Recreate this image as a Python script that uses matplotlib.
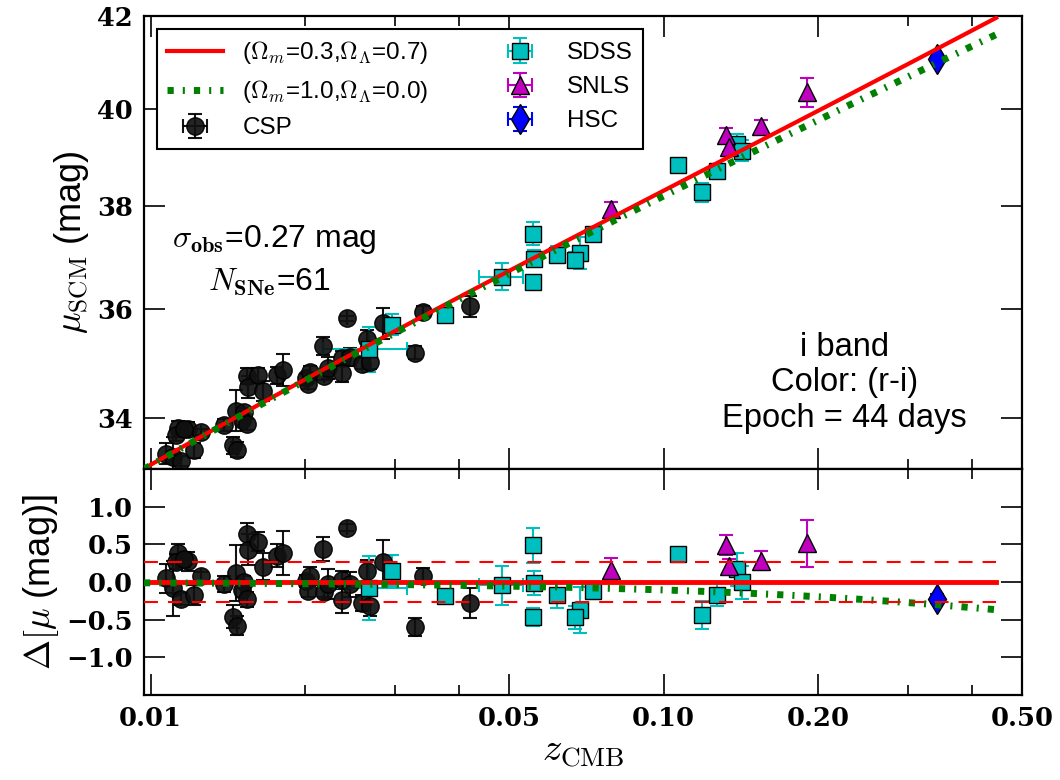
import numpy as np
import matplotlib
matplotlib.use("Agg")
import matplotlib.pyplot as plt
from matplotlib.ticker import NullLocator, NullFormatter

plt.rcParams["mathtext.fontset"] = "cm"
plt.rcParams["font.family"] = ["Liberation Sans", "DejaVu Sans"]

# --- data ---
csp_z = [0.01070, 0.01106, 0.01128, 0.01118, 0.01143, 0.01180, 0.01215, 0.01256,
         0.01391, 0.01466, 0.01444, 0.01470, 0.01521, 0.01504, 0.01538, 0.01542,
         0.01545, 0.01620, 0.01653, 0.01765, 0.01813, 0.02008, 0.02044, 0.02029,
         0.02170, 0.02180, 0.02220, 0.02358, 0.02360, 0.02411, 0.02447, 0.02579,
         0.02638, 0.02677, 0.02835, 0.03402, 0.03278, 0.04184, 0.01160]
csp_mu = [33.37, 33.31, 33.83, 33.69, 33.24, 33.81, 33.43, 33.75,
          33.87, 34.13, 33.52, 33.44, 34.10, 33.97, 33.89, 34.76,
          34.56, 34.77, 34.48, 34.77, 34.87, 34.72, 34.83, 34.61,
          35.31, 34.76, 34.90, 35.09, 34.82, 35.83, 35.11, 34.98,
          35.45, 35.02, 35.74, 35.95, 35.19, 36.06, 33.80]
csp_err = [0.19, 0.36, 0.12, 0.10, 0.08, 0.12, 0.13, 0.06,
           0.11, 0.37, 0.15, 0.13, 0.08, 0.10, 0.10, 0.15,
           0.20, 0.13, 0.18, 0.15, 0.29, 0.08, 0.12, 0.08,
           0.16, 0.07, 0.20, 0.12, 0.17, 0.05, 0.17, 0.10,
           0.15, 0.13, 0.29, 0.11, 0.12, 0.20, 0.10]

sdss_z = [0.04848, 0.05555, 0.05598, 0.05560, 0.06201, 0.06865, 0.06733, 0.07276,
          0.10665, 0.11900, 0.12732, 0.13930, 0.14202, 0.02665, 0.02952, 0.03752]
sdss_mu = [36.62, 37.46, 36.97, 36.51, 37.05, 37.08, 36.94, 37.46,
           38.83, 38.28, 38.71, 39.26, 39.13, 35.25, 35.71, 35.90]
sdss_err = [0.26, 0.23, 0.16, 0.12, 0.17, 0.31, 0.15, 0.10,
            0.07, 0.19, 0.15, 0.22, 0.22, 0.42, 0.20, 0.08]
sdss_zerr = [0.0048, 0, 0, 0, 0, 0, 0, 0,
             0, 0, 0, 0, 0, 0.0050, 0, 0]

snls_z = [0.07913, 0.13215, 0.13416, 0.15514, 0.19024]
snls_mu = [37.94, 39.46, 39.21, 39.63, 40.35]
snls_err = [0.15, 0.13, 0.10, 0.13, 0.31]

hsc_z = [0.3414]
hsc_mu = [41.06]
hsc_err = [0.06]

sigma_obs = 0.27
band_text = "i band\nColor: (r-i)\nEpoch = 44 days"

# cosmology for the model curves
H0 = 70.0
C_KMS = 299792.458
Z_MIN, Z_MAX = 0.0097, 0.445


def dist_mod(z, om, ol):
    """distance modulus for an FRW model (numerical integral)"""
    z = np.asarray(z, dtype=float)
    zz = np.linspace(0.0, 0.6, 6001)
    ez = np.sqrt(om * (1 + zz) ** 3 + (1 - om - ol) * (1 + zz) ** 2 + ol)
    dc = np.concatenate([[0.0], np.cumsum(0.5 * (1 / ez[1:] + 1 / ez[:-1]) * np.diff(zz))])
    dl = (1 + z) * C_KMS / H0 * np.interp(z, zz, dc)
    return 5 * np.log10(dl) + 25


z_line = np.logspace(np.log10(Z_MIN), np.log10(Z_MAX), 400)
mu_lcdm = dist_mod(z_line, 0.3, 0.7)
mu_eds = dist_mod(z_line, 1.0, 0.0)

n_sne = len(csp_z) + len(sdss_z) + len(snls_z) + len(hsc_z)

fig = plt.figure(figsize=(10.6, 7.8), dpi=100)
ax1 = fig.add_axes([0.1358, 0.3987, 0.8284, 0.5808])
ax2 = fig.add_axes([0.1358, 0.1090, 0.8284, 0.2897])

eb_kw = dict(capsize=5, elinewidth=1.5, capthick=1.5, zorder=3)
line_kw_g = dict(color="g", lw=5, ls=(0, (0.9, 1.3, 0.3, 1.3)), zorder=4)

groups = [
    (csp_z, csp_mu, csp_err, None, "o", "#111111", "k", 12.5, "CSP"),
    (sdss_z, sdss_mu, sdss_err, sdss_zerr, "s", "c", "c", 12, "SDSS"),
    (snls_z, snls_mu, snls_err, None, "^", "m", "m", 13, "SNLS"),
    (hsc_z, hsc_mu, hsc_err, None, "d", "b", "b", 15, "HSC"),
]

handles = []
l1, = ax1.plot(z_line, mu_lcdm, color="r", lw=3, zorder=4,
               label=r"($\Omega_m$=0.3,$\Omega_\Lambda$=0.7)")
l2, = ax1.plot(z_line, mu_eds, label=r"($\Omega_m$=1.0,$\Omega_\Lambda$=0.0)", **line_kw_g)
handles += [l1, l2]

for z, mu, err, zerr, mk, fc, ec, ms, name in groups:
    z = np.array(z)
    mu = np.array(mu)
    if zerr is None:
        zerr = np.zeros_like(z)
    alpha = 0.92 if name == "CSP" else 1.0
    h = ax1.errorbar(z, mu, yerr=err, xerr=zerr, fmt=mk, mfc=fc, mec="k", ecolor=ec,
                     ms=ms, alpha=alpha, label=name, **eb_kw)
    handles.append(h)
    resid = mu - dist_mod(z, 0.3, 0.7)
    ax2.errorbar(z, resid, yerr=err, xerr=zerr, fmt=mk, mfc=fc, mec="k", ecolor=ec,
                 ms=ms, alpha=alpha, **eb_kw)

# residual panel lines
ax2.plot(z_line, mu_lcdm - mu_lcdm, color="r", lw=3.5, zorder=4)
ax2.plot(z_line, mu_eds - mu_lcdm, **line_kw_g)
ax2.plot(z_line, np.full_like(z_line, sigma_obs), color="r", lw=1.5, ls=(0, (6.7, 4.8)), zorder=4)
ax2.plot(z_line, np.full_like(z_line, -sigma_obs), color="r", lw=1.5, ls=(0, (6.7, 4.8)), zorder=4)

leg = ax1.legend(handles=handles, loc="upper left", ncol=2, fontsize=17.5, numpoints=1,
                 fancybox=False, edgecolor="k", framealpha=1, borderaxespad=0.55,
                 handlelength=2.3, columnspacing=2.6, labelspacing=0.5)
leg.get_frame().set_linewidth(1.5)

ax1.text(0.149, 0.506, r"$\sigma_{\mathbf{obs}}$=%.2f mag" % sigma_obs,
         transform=ax1.transAxes, fontsize=23, ha="center", va="center")
ax1.text(0.143, 0.413, r"$N_{\mathbf{SNe}}$=%d" % n_sne,
         transform=ax1.transAxes, fontsize=23, ha="center", va="center")
ax1.text(0.798, 0.19, band_text, transform=ax1.transAxes, fontsize=23.5,
         ha="center", va="center", multialignment="center", linespacing=1.2)

# axes formatting
tick_font = dict(family="DejaVu Serif", weight="bold", size=18.5)
xmaj = [0.01, 0.05, 0.10, 0.20, 0.50]
xmin = [0.02, 0.03, 0.04, 0.3, 0.4]
for ax in (ax1, ax2):
    ax.set_xscale("log")
    ax.set_xlim(Z_MIN, 0.5)
    ax.set_xticks(xmaj, labels=["%.2f" % v for v in xmaj], fontdict=tick_font)
    ax.set_xticks(xmin, minor=True)
    ax.xaxis.set_minor_formatter(NullFormatter())
    ax.tick_params(which="both", direction="in", top=True, right=True)
    ax.tick_params(which="major", length=15, width=1.2, pad=8)
    ax.tick_params(which="minor", length=7.5, width=1.2)
    for s in ax.spines.values():
        s.set_linewidth(1.6)

ax1.set_yscale("log")
ax1.set_ylim(33.1, 42.0)
ymaj = [34, 36, 38, 40, 42]
ax1.set_yticks(ymaj, labels=["%d" % v for v in ymaj], fontdict=tick_font)
ax1.yaxis.set_minor_locator(NullLocator())
ax1.tick_params(axis="x", labelbottom=False)

ax2.set_ylim(-1.5, 1.5)
rmaj = [-1.0, -0.5, 0.0, 0.5, 1.0]
ax2.set_yticks(rmaj, labels=[("%.1f" % v).replace("-", "\u2212") for v in rmaj],
               fontdict=tick_font)
ax2.yaxis.set_minor_locator(NullLocator())

ax1.set_ylabel(r"$\mu_{\rm SCM}$ (mag)", fontsize=26)
ax2.set_ylabel(r"$\Delta[\mu$ (mag)]", fontsize=26)
ax2.set_xlabel(r"$z_{\rm CMB}$", fontsize=28, labelpad=2)

fig.savefig("out.png", dpi=100)
